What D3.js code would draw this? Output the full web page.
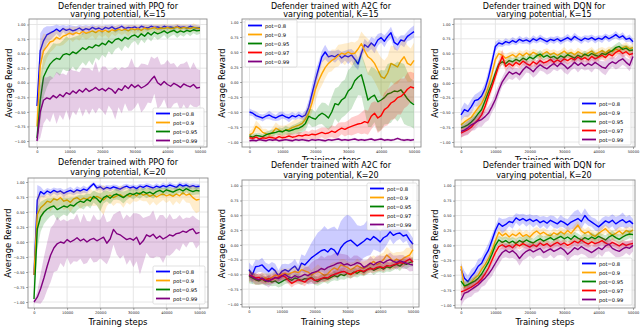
<!DOCTYPE html>
<html><head><meta charset="utf-8">
<script src="https://cdn.jsdelivr.net/npm/d3@7"></script>
<style>body{margin:0;background:#fff}svg{display:block}</style>
</head><body><svg id="c" width="640" height="327"></svg>
<script>
// ---------- shared data ----------
const STEPS = [0,1000,2000,3000,4000,5000,6000,7000,8000,9000,10000,11000,12000,13000,14000,15000,16000,17000,18000,19000,20000,21000,22000,23000,24000,25000,26000,27000,28000,29000,30000,31000,32000,33000,34000,35000,36000,37000,38000,39000,40000,41000,42000,43000,44000,45000,46000,47000,48000,49000,50000];
const X_TICKS = [0,10000,20000,30000,40000,50000];
const Y_TICKS = [-1,-0.75,-0.5,-0.25,0,0.25,0.5,0.75,1];
const SERIES_LABELS = ["pot=0.8","pot=0.9","pot=0.95","pot=0.97","pot=0.99"];
const SERIES_COLORS = ["blue","orange","green","red","purple"];
const ALGOS = ["PPO","A2C","DQN"];
const KS = [15,20];

// ---------- PPO, K=15 ----------
const ppo15_08 = [-0.40,0.55,0.72,0.82,0.85,0.88,0.92,0.88,0.93,0.90,0.92,0.89,0.91,0.94,0.90,0.93,0.91,0.95,0.92,0.94,0.91,0.95,0.93,0.96,0.92,0.94,0.97,0.93,0.95,0.94,0.96,0.93,0.97,0.95,0.94,0.97,0.95,0.96,0.94,0.97,0.95,0.96,0.94,0.97,0.95,0.96,0.94,0.97,0.95,0.94,0.94];
const ppo15_09 = [-0.75,0.30,0.55,0.62,0.70,0.72,0.78,0.75,0.80,0.82,0.85,0.83,0.86,0.84,0.88,0.85,0.87,0.89,0.86,0.90,0.88,0.90,0.87,0.91,0.89,0.92,0.90,0.92,0.89,0.93,0.91,0.93,0.90,0.94,0.92,0.93,0.95,0.92,0.94,0.93,0.95,0.93,0.94,0.96,0.93,0.95,0.94,0.93,0.95,0.94,0.93];
const ppo15_095 = [-0.95,-0.30,0.10,0.22,0.32,0.38,0.42,0.40,0.48,0.50,0.48,0.53,0.50,0.55,0.60,0.57,0.62,0.60,0.65,0.63,0.68,0.65,0.72,0.68,0.74,0.76,0.72,0.78,0.75,0.80,0.82,0.78,0.84,0.80,0.86,0.82,0.87,0.84,0.86,0.89,0.85,0.88,0.90,0.86,0.89,0.87,0.90,0.88,0.91,0.89,0.90];
const ppo15_099 = [-1.00,-0.50,-0.30,-0.26,-0.28,-0.22,-0.26,-0.20,-0.24,-0.17,-0.20,-0.14,-0.18,-0.12,-0.16,-0.10,-0.15,-0.12,-0.08,-0.13,-0.10,-0.14,-0.09,-0.12,-0.18,-0.10,-0.13,-0.05,-0.10,-0.03,-0.08,-0.04,-0.09,-0.06,-0.02,0.05,0.11,0.00,-0.04,0.02,-0.03,-0.06,-0.01,-0.04,-0.08,-0.02,-0.05,-0.07,-0.03,-0.09,-0.08];
const ppo15_08_sd = [.05,.3,.22,.15,.12,.1,.08,.1,.06,.08,.07,.09,.06,.05,.08,.06,.07,.05,.06,.05,.07,.04,.06,.04,.06,.05,.03,.05,.04,.05,.03,.05,.03,.04,.05,.03,.04,.03,.05,.03,.04,.03,.05,.03,.04,.03,.05,.03,.04,.05,.04];
const ppo15_09_sd = [.05,.4,.3,.2,.18,.15,.14,.12,.15,.12,.1,.13,.1,.12,.09,.11,.1,.08,.12,.08,.1,.08,.11,.07,.09,.07,.08,.07,.1,.06,.08,.06,.09,.06,.07,.06,.05,.08,.06,.07,.05,.07,.06,.05,.07,.05,.06,.05,.07,.05,.06];
const ppo15_095_sd = [.03,.4,.35,.3,.28,.3,.25,.28,.25,.3,.28,.25,.3,.27,.25,.28,.24,.3,.22,.25,.2,.22,.18,.2,.17,.15,.18,.14,.16,.12,.1,.14,.1,.12,.09,.11,.08,.1,.09,.07,.1,.08,.07,.09,.07,.08,.06,.08,.06,.07,.06];
const ppo15_099_sd = [.02,.45,.4,.35,.4,.3,.45,.35,.4,.3,.45,.35,.38,.3,.42,.35,.4,.32,.45,.3,.38,.42,.3,.35,.45,.32,.4,.3,.38,.45,.35,.3,.42,.38,.32,.4,.3,.45,.35,.3,.42,.38,.35,.3,.4,.35,.42,.3,.38,.33,.3];

// ---------- A2C, K=15 ----------
const a2c15_08 = [-0.50,-0.52,-0.56,-0.58,-0.60,-0.57,-0.55,-0.58,-0.60,-0.57,-0.55,-0.58,-0.60,-0.56,-0.58,-0.55,-0.58,-0.55,-0.42,-0.20,0.02,0.22,0.42,0.50,0.42,0.44,0.42,0.46,0.40,0.44,0.42,0.45,0.38,0.30,0.48,0.62,0.58,0.65,0.60,0.70,0.74,0.68,0.76,0.82,0.66,0.62,0.70,0.68,0.76,0.80,0.84];
const a2c15_09 = [-0.88,-0.85,-0.74,-0.78,-0.84,-0.86,-0.88,-0.84,-0.77,-0.80,-0.83,-0.80,-0.79,-0.76,-0.74,-0.72,-0.69,-0.62,-0.52,-0.35,-0.13,0.02,0.14,0.24,0.31,0.36,0.39,0.44,0.48,0.46,0.50,0.47,0.48,0.55,0.64,0.52,0.42,0.38,0.31,0.20,0.09,0.06,0.15,0.31,0.28,0.25,0.35,0.42,0.31,0.28,0.36];
const a2c15_095 = [-0.90,-0.92,-0.89,-0.90,-0.91,-0.88,-0.86,-0.85,-0.84,-0.82,-0.83,-0.80,-0.82,-0.80,-0.78,-0.77,-0.74,-0.69,-0.57,-0.60,-0.62,-0.56,-0.52,-0.55,-0.60,-0.50,-0.36,-0.38,-0.30,-0.26,-0.15,-0.10,0.02,0.08,0.12,-0.08,-0.30,-0.25,-0.22,-0.33,-0.30,-0.26,-0.20,-0.18,-0.15,-0.16,-0.13,-0.20,-0.28,-0.34,-0.38];
const a2c15_097 = [-0.93,-0.94,-0.92,-0.95,-0.93,-0.94,-0.92,-0.93,-0.94,-0.91,-0.93,-0.92,-0.90,-0.92,-0.91,-0.89,-0.90,-0.88,-0.89,-0.87,-0.88,-0.86,-0.84,-0.86,-0.85,-0.82,-0.84,-0.80,-0.77,-0.79,-0.76,-0.74,-0.72,-0.70,-0.69,-0.66,-0.68,-0.57,-0.52,-0.60,-0.56,-0.46,-0.42,-0.35,-0.32,-0.26,-0.24,-0.19,-0.12,-0.08,-0.10];
const a2c15_099 = [-0.98,-0.97,-0.98,-0.96,-0.97,-0.98,-0.96,-0.97,-0.96,-0.98,-0.97,-0.96,-0.97,-0.98,-0.96,-0.97,-0.96,-0.97,-0.98,-0.96,-0.97,-0.96,-0.97,-0.98,-0.96,-0.97,-0.96,-0.95,-0.97,-0.96,-0.97,-0.96,-0.95,-0.97,-0.96,-0.97,-0.96,-0.95,-0.97,-0.96,-0.95,-0.97,-0.96,-0.97,-0.96,-0.94,-0.96,-0.97,-0.96,-0.97,-0.96];
const a2c15_08_sd = [.06,.05,.07,.05,.06,.05,.07,.06,.05,.07,.06,.05,.07,.06,.05,.06,.05,.08,.12,.15,.15,.12,.1,.12,.1,.08,.1,.08,.1,.08,.12,.1,.12,.1,.08,.1,.08,.1,.12,.1,.08,.1,.08,.1,.12,.1,.08,.1,.08,.1,.1];
const a2c15_09_sd = [.06,.08,.1,.08,.06,.08,.06,.08,.1,.08,.1,.08,.1,.1,.12,.1,.12,.12,.15,.15,.2,.18,.2,.18,.15,.18,.15,.18,.15,.18,.15,.2,.18,.15,.2,.25,.3,.28,.3,.3,.32,.3,.28,.3,.32,.28,.3,.32,.3,.28,.3];
const a2c15_095_sd = [.04,.05,.04,.05,.04,.05,.05,.06,.05,.06,.06,.07,.06,.08,.08,.1,.1,.12,.12,.15,.12,.15,.18,.2,.2,.25,.25,.3,.3,.3,.35,.35,.35,.3,.35,.4,.45,.5,.45,.5,.5,.45,.5,.5,.45,.5,.45,.5,.45,.4,.4];
const a2c15_097_sd = [.03,.03,.04,.03,.03,.04,.03,.04,.04,.05,.04,.05,.05,.06,.05,.06,.06,.07,.06,.08,.07,.08,.08,.1,.08,.1,.1,.12,.1,.12,.12,.15,.15,.15,.18,.2,.2,.22,.2,.25,.25,.28,.3,.28,.3,.28,.3,.25,.28,.25,.25];
const a2c15_099_sd = [.02,.02,.02,.02,.02,.02,.02,.02,.02,.02,.02,.02,.02,.02,.02,.02,.02,.02,.02,.02,.02,.02,.02,.02,.02,.02,.02,.02,.02,.02,.02,.02,.02,.02,.02,.02,.02,.02,.02,.02,.02,.02,.02,.02,.02,.02,.02,.02,.02,.02,.02];

// ---------- DQN, K=15 ----------
const dqn15_08 = [-0.54,-0.45,-0.48,-0.40,-0.30,-0.28,-0.22,-0.10,0.10,0.35,0.62,0.68,0.66,0.70,0.68,0.72,0.69,0.74,0.71,0.73,0.70,0.75,0.72,0.76,0.73,0.70,0.74,0.72,0.75,0.71,0.74,0.77,0.73,0.79,0.75,0.72,0.76,0.74,0.77,0.73,0.76,0.74,0.79,0.75,0.78,0.82,0.77,0.80,0.74,0.76,0.70];
const dqn15_09 = [-0.71,-0.66,-0.62,-0.58,-0.50,-0.42,-0.34,-0.22,-0.05,0.15,0.40,0.50,0.47,0.42,0.45,0.48,0.44,0.50,0.46,0.51,0.47,0.52,0.49,0.45,0.50,0.53,0.48,0.51,0.47,0.50,0.54,0.49,0.52,0.48,0.53,0.50,0.47,0.51,0.54,0.49,0.52,0.55,0.51,0.56,0.53,0.58,0.55,0.60,0.62,0.58,0.60];
const dqn15_095 = [-0.76,-0.74,-0.71,-0.66,-0.60,-0.52,-0.45,-0.30,-0.15,0.00,0.17,0.32,0.36,0.33,0.38,0.36,0.40,0.37,0.42,0.39,0.44,0.41,0.46,0.49,0.44,0.47,0.43,0.45,0.41,0.46,0.43,0.48,0.45,0.42,0.47,0.44,0.49,0.46,0.50,0.47,0.45,0.50,0.48,0.52,0.55,0.60,0.62,0.57,0.59,0.55,0.56];
const dqn15_097 = [-0.85,-0.82,-0.79,-0.75,-0.68,-0.62,-0.54,-0.40,-0.22,-0.06,0.12,0.30,0.45,0.28,0.33,0.29,0.35,0.31,0.37,0.33,0.30,0.36,0.32,0.38,0.34,0.36,0.40,0.35,0.39,0.36,0.41,0.38,0.42,0.39,0.44,0.40,0.43,0.39,0.45,0.41,0.44,0.47,0.43,0.49,0.46,0.52,0.55,0.50,0.53,0.48,0.50];
const dqn15_099 = [-0.82,-0.80,-0.76,-0.71,-0.68,-0.64,-0.62,-0.57,-0.51,-0.40,-0.28,-0.12,0.02,0.11,0.19,0.15,0.18,0.14,0.22,0.28,0.24,0.19,0.26,0.31,0.27,0.24,0.29,0.33,0.28,0.34,0.30,0.24,0.29,0.35,0.30,0.34,0.29,0.33,0.30,0.35,0.31,0.27,0.25,0.32,0.36,0.33,0.38,0.41,0.35,0.30,0.45];
const dqn15_08_sd = [.1,.12,.1,.12,.1,.12,.1,.1,.12,.1,.08,.06,.05,.06,.05,.06,.05,.06,.05,.06,.05,.06,.05,.06,.05,.06,.05,.06,.05,.06,.05,.06,.05,.06,.05,.06,.05,.06,.05,.06,.05,.06,.05,.06,.05,.06,.05,.06,.05,.06,.05];
const dqn15_09_sd = [.08,.1,.08,.1,.08,.1,.1,.12,.1,.1,.08,.06,.07,.06,.07,.06,.07,.06,.07,.06,.07,.06,.07,.06,.07,.06,.07,.06,.07,.06,.07,.06,.07,.06,.07,.06,.07,.06,.07,.06,.07,.06,.07,.06,.07,.06,.07,.06,.07,.06,.07];
const dqn15_095_sd = [.07,.08,.07,.08,.07,.08,.1,.1,.1,.08,.07,.06,.05,.06,.07,.06,.05,.07,.06,.05,.07,.06,.05,.07,.06,.05,.07,.06,.05,.07,.06,.05,.07,.06,.05,.07,.06,.05,.07,.06,.05,.07,.06,.05,.07,.06,.08,.07,.06,.07,.06];
const dqn15_097_sd = [.08,.07,.08,.07,.08,.07,.08,.1,.1,.08,.08,.1,.12,.08,.06,.07,.06,.07,.06,.07,.06,.07,.06,.07,.06,.07,.06,.07,.06,.07,.06,.07,.06,.07,.06,.07,.06,.07,.06,.07,.06,.07,.06,.07,.06,.07,.06,.07,.06,.07,.06];
const dqn15_099_sd = [.1,.1,.12,.1,.12,.1,.12,.1,.12,.1,.12,.1,.08,.1,.12,.1,.08,.1,.12,.1,.08,.1,.12,.1,.08,.1,.12,.1,.08,.1,.12,.1,.08,.1,.12,.1,.08,.1,.12,.1,.08,.1,.12,.1,.08,.1,.12,.1,.08,.1,.12];

// ---------- PPO, K=20 ----------
const ppo20_08 = [-0.55,0.70,0.84,0.80,0.85,0.82,0.86,0.83,0.85,0.81,0.84,0.86,0.83,0.87,0.85,0.88,0.86,0.92,0.97,0.90,0.92,0.88,0.91,0.89,0.92,0.90,0.88,0.91,0.93,0.90,0.92,0.89,0.93,0.91,0.94,0.92,0.90,0.93,0.91,0.94,0.92,0.95,0.93,0.91,0.96,0.93,0.95,0.92,0.94,0.92,0.93];
const ppo20_09 = [-0.55,0.46,0.57,0.62,0.68,0.66,0.72,0.70,0.74,0.68,0.70,0.66,0.72,0.74,0.70,0.73,0.71,0.75,0.72,0.76,0.73,0.70,0.75,0.78,0.74,0.77,0.79,0.75,0.78,0.76,0.80,0.77,0.82,0.78,0.80,0.76,0.79,0.75,0.78,0.80,0.77,0.79,0.76,0.80,0.77,0.82,0.78,0.80,0.74,0.70,0.71];
const ppo20_095 = [-0.95,0.22,0.42,0.50,0.55,0.58,0.60,0.54,0.57,0.60,0.58,0.62,0.60,0.65,0.68,0.66,0.71,0.68,0.76,0.72,0.66,0.74,0.77,0.73,0.78,0.80,0.77,0.74,0.78,0.81,0.79,0.82,0.80,0.84,0.81,0.83,0.80,0.84,0.86,0.83,0.87,0.85,0.83,0.86,0.88,0.85,0.89,0.86,0.84,0.86,0.85];
const ppo20_099 = [-1.00,-0.92,-0.78,-0.60,-0.40,-0.22,-0.10,-0.03,0.00,-0.02,0.04,0.00,0.03,0.07,0.02,0.05,0.00,0.04,0.06,0.02,0.05,0.08,-0.02,0.05,0.21,0.14,0.12,0.08,0.04,0.06,0.03,0.08,-0.04,0.02,0.12,0.09,0.13,0.06,0.10,0.05,0.08,0.12,0.10,0.14,0.15,0.18,0.16,0.20,0.22,0.14,0.16];
const ppo20_08_sd = [.05,.25,.08,.06,.05,.06,.05,.06,.05,.06,.05,.06,.05,.06,.05,.06,.05,.04,.03,.05,.04,.05,.04,.05,.04,.05,.04,.05,.04,.05,.04,.05,.04,.05,.04,.05,.04,.05,.04,.05,.04,.05,.04,.05,.04,.05,.04,.05,.04,.05,.04];
const ppo20_09_sd = [.05,.35,.2,.15,.12,.15,.12,.14,.12,.15,.13,.16,.14,.12,.15,.13,.12,.14,.12,.15,.2,.25,.15,.12,.14,.12,.15,.18,.12,.14,.12,.1,.12,.1,.12,.15,.12,.14,.12,.1,.12,.1,.15,.12,.14,.1,.12,.15,.2,.22,.2];
const ppo20_095_sd = [.03,.35,.25,.2,.18,.15,.14,.18,.15,.14,.15,.12,.14,.12,.11,.12,.1,.12,.1,.11,.15,.1,.09,.1,.08,.09,.08,.1,.08,.07,.08,.07,.08,.07,.08,.07,.08,.07,.06,.07,.06,.07,.06,.07,.06,.07,.06,.07,.06,.07,.06];
const ppo20_099_sd = [.02,.1,.25,.35,.4,.45,.4,.45,.35,.4,.3,.38,.35,.4,.3,.42,.35,.3,.4,.35,.32,.4,.35,.3,.25,.35,.4,.3,.42,.35,.45,.4,.5,.38,.3,.35,.4,.3,.35,.4,.3,.35,.28,.25,.3,.2,.25,.2,.22,.25,.2];

// ---------- A2C, K=20 ----------
const a2c20_08 = [-0.42,-0.51,-0.37,-0.36,-0.34,-0.40,-0.45,-0.39,-0.44,-0.53,-0.45,-0.42,-0.45,-0.40,-0.36,-0.44,-0.31,-0.34,-0.28,-0.22,-0.18,-0.14,-0.10,-0.08,-0.12,-0.06,-0.09,-0.17,-0.05,0.02,0.06,0.08,0.03,-0.02,0.02,0.06,0.11,0.08,0.14,0.10,0.05,0.12,0.15,0.22,0.16,0.19,0.20,0.15,0.17,0.08,0.01];
const a2c20_09 = [-0.53,-0.55,-0.58,-0.59,-0.57,-0.56,-0.58,-0.55,-0.51,-0.53,-0.50,-0.48,-0.50,-0.47,-0.45,-0.47,-0.42,-0.44,-0.46,-0.51,-0.48,-0.45,-0.48,-0.52,-0.49,-0.43,-0.39,-0.42,-0.34,-0.36,-0.38,-0.42,-0.39,-0.35,-0.38,-0.40,-0.36,-0.32,-0.28,-0.33,-0.30,-0.25,-0.17,-0.22,-0.28,-0.24,-0.27,-0.23,-0.20,-0.17,-0.08];
const a2c20_095 = [-0.53,-0.56,-0.59,-0.61,-0.58,-0.62,-0.60,-0.63,-0.61,-0.65,-0.62,-0.59,-0.57,-0.60,-0.56,-0.58,-0.60,-0.57,-0.58,-0.55,-0.60,-0.62,-0.58,-0.56,-0.58,-0.55,-0.52,-0.54,-0.50,-0.52,-0.48,-0.50,-0.46,-0.48,-0.44,-0.46,-0.42,-0.39,-0.43,-0.40,-0.38,-0.41,-0.37,-0.39,-0.35,-0.33,-0.36,-0.31,-0.33,-0.30,-0.28];
const a2c20_097 = [-0.51,-0.53,-0.56,-0.55,-0.58,-0.60,-0.57,-0.59,-0.56,-0.55,-0.52,-0.54,-0.60,-0.65,-0.62,-0.59,-0.61,-0.63,-0.58,-0.56,-0.60,-0.59,-0.57,-0.55,-0.56,-0.52,-0.50,-0.48,-0.46,-0.45,-0.48,-0.50,-0.47,-0.44,-0.43,-0.45,-0.42,-0.40,-0.41,-0.38,-0.37,-0.39,-0.35,-0.36,-0.34,-0.32,-0.30,-0.31,-0.27,-0.24,-0.29];
const a2c20_099 = [-0.51,-0.54,-0.57,-0.59,-0.56,-0.60,-0.62,-0.58,-0.55,-0.57,-0.53,-0.50,-0.54,-0.56,-0.52,-0.55,-0.53,-0.50,-0.52,-0.48,-0.46,-0.44,-0.40,-0.42,-0.38,-0.36,-0.34,-0.31,-0.30,-0.34,-0.32,-0.35,-0.33,-0.30,-0.32,-0.38,-0.35,-0.31,-0.34,-0.30,-0.28,-0.31,-0.27,-0.25,-0.28,-0.30,-0.27,-0.29,-0.31,-0.33,-0.34];
const a2c20_08_sd = [.12,.15,.12,.1,.12,.1,.12,.1,.12,.1,.12,.1,.12,.1,.12,.1,.15,.15,.2,.25,.3,.35,.35,.4,.38,.35,.4,.42,.45,.45,.45,.4,.38,.35,.3,.28,.3,.25,.22,.2,.18,.2,.15,.12,.15,.12,.1,.12,.1,.12,.1];
const a2c20_09_sd = [.1,.08,.1,.08,.1,.08,.1,.08,.1,.08,.1,.08,.1,.08,.1,.08,.1,.08,.1,.08,.1,.12,.1,.12,.1,.12,.1,.12,.1,.12,.1,.12,.1,.12,.1,.12,.1,.12,.1,.12,.14,.12,.14,.12,.14,.12,.15,.12,.15,.12,.15];
const a2c20_095_sd = [.12,.1,.08,.07,.08,.07,.08,.07,.08,.07,.08,.07,.08,.07,.08,.07,.08,.07,.08,.07,.08,.07,.08,.07,.08,.07,.08,.07,.08,.07,.08,.07,.08,.07,.08,.07,.08,.07,.08,.07,.08,.07,.08,.07,.08,.07,.08,.07,.08,.07,.08];
const a2c20_097_sd = [.06,.07,.06,.07,.06,.07,.06,.07,.06,.07,.06,.07,.06,.07,.06,.07,.06,.07,.06,.07,.06,.07,.06,.07,.06,.07,.06,.07,.06,.07,.06,.07,.06,.07,.06,.07,.06,.07,.06,.07,.06,.07,.06,.07,.06,.07,.06,.07,.06,.07,.06];
const a2c20_099_sd = [.1,.08,.1,.08,.1,.08,.1,.08,.1,.08,.1,.08,.1,.08,.1,.08,.1,.12,.15,.18,.2,.2,.22,.2,.2,.18,.2,.18,.15,.18,.15,.12,.15,.12,.1,.12,.1,.12,.1,.12,.1,.12,.1,.12,.1,.12,.1,.12,.1,.12,.1];

// ---------- DQN, K=20 ----------
const dqn20_08 = [-0.40,-0.55,-0.61,-0.52,-0.45,-0.35,-0.30,-0.18,-0.08,0.08,0.25,0.37,0.32,0.35,0.40,0.38,0.46,0.42,0.45,0.41,0.44,0.40,0.43,0.38,0.41,0.37,0.42,0.39,0.36,0.41,0.38,0.34,0.39,0.42,0.45,0.40,0.50,0.43,0.39,0.35,0.31,0.36,0.41,0.38,0.42,0.36,0.40,0.43,0.38,0.41,0.36];
const dqn20_09 = [-0.35,-0.70,-0.66,-0.62,-0.55,-0.50,-0.40,-0.32,-0.22,-0.08,0.08,0.22,0.16,0.20,0.14,0.19,0.16,0.21,0.15,0.18,0.14,0.20,0.24,0.19,0.22,0.18,0.16,0.21,0.18,0.23,0.19,0.25,0.20,0.27,0.34,0.24,0.20,0.23,0.18,0.15,0.20,0.24,0.28,0.22,0.17,0.20,0.24,0.19,0.25,0.22,0.26];
const dqn20_095 = [-0.60,-0.68,-0.66,-0.63,-0.60,-0.55,-0.48,-0.38,-0.28,-0.15,0.00,0.09,0.05,0.08,0.04,0.07,0.03,0.08,0.05,0.09,0.06,0.04,0.08,0.11,0.07,0.10,0.13,0.09,0.12,0.15,0.11,0.14,0.10,0.16,0.12,0.09,0.13,0.10,0.14,0.11,0.15,0.12,0.09,0.14,0.17,0.13,0.10,0.14,0.17,0.19,0.18];
const dqn20_097 = [-0.78,-0.76,-0.73,-0.70,-0.66,-0.62,-0.56,-0.48,-0.38,-0.25,-0.12,-0.02,0.01,-0.03,0.00,-0.04,0.02,-0.01,0.03,0.00,-0.03,0.01,-0.02,0.04,0.00,0.03,-0.02,0.02,0.05,0.01,0.04,0.00,0.03,0.07,0.04,0.09,0.05,0.02,0.06,0.03,0.05,0.08,0.04,0.01,0.05,0.02,-0.01,0.03,0.00,0.02,0.03];
const dqn20_099 = [-0.92,-0.80,-0.78,-0.74,-0.70,-0.66,-0.60,-0.55,-0.48,-0.40,-0.30,-0.20,-0.12,-0.08,-0.12,-0.09,-0.14,-0.22,-0.15,-0.10,-0.07,-0.11,-0.08,-0.05,-0.12,-0.09,-0.06,-0.10,-0.07,-0.04,-0.08,-0.15,-0.10,-0.04,-0.07,-0.02,-0.06,-0.09,-0.12,-0.08,-0.04,-0.07,-0.01,0.02,-0.05,-0.08,-0.10,-0.06,-0.03,-0.05,0.00];
const dqn20_08_sd = [.1,.12,.1,.12,.1,.12,.1,.1,.12,.1,.08,.1,.12,.1,.08,.1,.08,.1,.08,.1,.08,.1,.08,.1,.08,.1,.08,.1,.08,.1,.08,.1,.12,.15,.15,.12,.12,.1,.08,.1,.08,.1,.08,.1,.1,.12,.1,.12,.1,.1,.08];
const dqn20_09_sd = [.1,.08,.07,.08,.07,.08,.07,.08,.07,.08,.07,.08,.07,.08,.07,.08,.07,.08,.07,.08,.07,.08,.07,.08,.07,.08,.07,.08,.07,.08,.07,.08,.07,.08,.07,.08,.07,.08,.07,.08,.07,.08,.07,.08,.07,.08,.07,.08,.07,.08,.07];
const dqn20_095_sd = [.08,.07,.08,.07,.08,.07,.08,.07,.08,.07,.08,.07,.08,.07,.08,.07,.08,.07,.08,.07,.08,.07,.08,.07,.08,.07,.08,.07,.08,.07,.08,.07,.08,.07,.08,.07,.08,.07,.08,.07,.08,.07,.08,.07,.08,.07,.08,.07,.08,.07,.08];
const dqn20_097_sd = [.07,.06,.07,.06,.07,.06,.07,.06,.07,.06,.07,.06,.07,.06,.07,.06,.07,.06,.07,.06,.07,.06,.07,.06,.07,.06,.07,.06,.07,.06,.07,.06,.07,.06,.07,.06,.07,.06,.07,.06,.07,.06,.07,.06,.07,.06,.07,.06,.07,.06,.07];
const dqn20_099_sd = [.1,.12,.1,.12,.1,.12,.1,.12,.1,.12,.1,.12,.1,.12,.1,.12,.1,.12,.1,.12,.1,.12,.1,.12,.1,.12,.1,.12,.1,.12,.1,.12,.1,.12,.1,.12,.1,.12,.1,.12,.1,.12,.1,.12,.1,.12,.1,.12,.1,.12,.1];

// ---------- panel assembly ----------
// xlY: baseline of "Training steps" (null where the reference shows none: hidden by the panel below)
const panels = [
  {algo:0,k:0, series:[[0,ppo15_08,ppo15_08_sd],[1,ppo15_09,ppo15_09_sd],[2,ppo15_095,ppo15_095_sd],[4,ppo15_099,ppo15_099_sd]],
   L:{bx0:29,by0:19,bx1:207,by1:147,x0:37,x1:200,yT:24.5,yB:141,tcx:118,t1:8.5,t2:17,ylx:9,xlY:null,cover:null,leg:[153,108,51]}},
  {algo:1,k:0, series:[[0,a2c15_08,a2c15_08_sd],[1,a2c15_09,a2c15_09_sd],[2,a2c15_095,a2c15_095_sd],[3,a2c15_097,a2c15_097_sd],[4,a2c15_099,a2c15_099_sd]],
   L:{bx0:242,by0:19,bx1:421,by1:147,x0:249.5,x1:414,yT:22,yB:142,tcx:331,t1:8.5,t2:17,ylx:222,xlY:163,cover:null,leg:[245,20,52]}},
  {algo:2,k:0, series:[[0,dqn15_08,dqn15_08_sd],[1,dqn15_09,dqn15_09_sd],[2,dqn15_095,dqn15_095_sd],[3,dqn15_097,dqn15_097_sd],[4,dqn15_099,dqn15_099_sd]],
   L:{bx0:454,by0:19,bx1:635,by1:147,x0:461,x1:633,yT:24,yB:142,tcx:544,t1:8.5,t2:17,ylx:435,xlY:163,cover:null,leg:[579,98,52]}},
  {algo:0,k:1, series:[[0,ppo20_08,ppo20_08_sd],[1,ppo20_09,ppo20_09_sd],[2,ppo20_095,ppo20_095_sd],[4,ppo20_099,ppo20_099_sd]],
   L:{bx0:28,by0:178,bx1:208,by1:308,x0:34,x1:199.5,yT:182,yB:302,tcx:118,t1:165,t2:175,ylx:8,xlY:325,cover:[0,156,213],leg:[153,266,52]}},
  {algo:1,k:1, series:[[0,a2c20_08,a2c20_08_sd],[1,a2c20_09,a2c20_09_sd],[2,a2c20_095,a2c20_095_sd],[3,a2c20_097,a2c20_097_sd],[4,a2c20_099,a2c20_099_sd]],
   L:{bx0:242,by0:180,bx1:419,by1:307,x0:249,x1:413,yT:185.7,yB:304,tcx:331,t1:168,t2:178,ylx:222,xlY:325,cover:[213,160,214],leg:[367,183,50]}},
  {algo:2,k:1, series:[[0,dqn20_08,dqn20_08_sd],[1,dqn20_09,dqn20_09_sd],[2,dqn20_095,dqn20_095_sd],[3,dqn20_097,dqn20_097_sd],[4,dqn20_099,dqn20_099_sd]],
   L:{bx0:455,by0:180,bx1:635,by1:308,x0:461,x1:633,yT:185.7,yB:305,tcx:544,t1:168,t2:178,ylx:435,xlY:325,cover:[427,160,213],leg:[579,258,53]}}
];

const FONT = "DejaVu Sans, Liberation Sans, sans-serif";
const svg = d3.select("#c");
svg.append("rect").attr("width",640).attr("height",327).attr("fill","#fff");
const fmtY = d => d3.format(".2f")(d).replace("-", "\u2212");

panels.forEach((p, pi) => {
  const L = p.L;
  const g = svg.append("g");
  if (L.cover) g.append("rect").attr("x",L.cover[0]).attr("y",L.cover[1]).attr("width",L.cover[2]).attr("height",327-L.cover[1]).attr("fill","#fff");
  const x = d3.scaleLinear().domain([0,50000]).range([L.x0,L.x1]);
  const y = d3.scaleLinear().domain([-1,1]).range([L.yB,L.yT]);
  const cid = "clip"+pi;
  g.append("clipPath").attr("id",cid).append("rect")
    .attr("x",L.bx0).attr("y",L.by0).attr("width",L.bx1-L.bx0).attr("height",L.by1-L.by0);
  // grid
  const grid = g.append("g").attr("stroke","#e3e3e3").attr("stroke-width",0.9);
  X_TICKS.forEach(t => grid.append("line").attr("x1",x(t)).attr("x2",x(t)).attr("y1",L.by0).attr("y2",L.by1));
  Y_TICKS.forEach(t => grid.append("line").attr("y1",y(t)).attr("y2",y(t)).attr("x1",L.bx0).attr("x2",L.bx1));
  // series
  const plot = g.append("g").attr("clip-path","url(#"+cid+")");
  p.series.forEach(([ci, vals, sd]) => {
    const data = STEPS.map((s,i) => ({s, v:vals[i], d:sd[i]}));
    plot.append("path").datum(data)
      .attr("d", d3.area().x(d=>x(d.s)).y0(d=>y(d.v-d.d)).y1(d=>y(d.v+d.d)))
      .attr("fill", SERIES_COLORS[ci]).attr("fill-opacity", 0.2).attr("stroke","none");
    plot.append("path").datum(data)
      .attr("d", d3.line().x(d=>x(d.s)).y(d=>y(d.v)))
      .attr("fill","none").attr("stroke",SERIES_COLORS[ci]).attr("stroke-width",1.4).attr("stroke-linejoin","round");
  });
  // frame
  g.append("rect").attr("x",L.bx0).attr("y",L.by0).attr("width",L.bx1-L.bx0).attr("height",L.by1-L.by0)
    .attr("fill","none").attr("stroke","#8c8c8c").attr("stroke-width",0.9);
  // axes
  const ax = g.append("g").attr("transform",`translate(0,${L.by1})`)
    .call(d3.axisBottom(x).tickValues(X_TICKS).tickSize(2).tickPadding(1).tickFormat(d3.format("d")));
  const ay = g.append("g").attr("transform",`translate(${L.bx0},0)`)
    .call(d3.axisLeft(y).tickValues(Y_TICKS).tickSize(2).tickPadding(1.5).tickFormat(fmtY));
  [ax, ay].forEach(a => {
    a.select(".domain").remove();
    a.selectAll("line").attr("stroke","#555").attr("stroke-width",0.5);
    a.selectAll("text").attr("font-family",FONT).attr("font-size","3.6px").attr("fill","#222");
  });
  // title
  const tt = g.append("text").attr("font-family",FONT).attr("font-size","8px").attr("fill","#000").attr("text-anchor","middle");
  tt.append("tspan").attr("x",L.tcx).attr("y",L.t1).text(`Defender trained with ${ALGOS[p.algo]} for`);
  tt.append("tspan").attr("x",L.tcx).attr("y",L.t2).text(`varying potential, K=${KS[p.k]}`);
  // axis labels
  const cy = (L.by0+L.by1)/2;
  g.append("text").attr("transform",`translate(${L.ylx},${cy}) rotate(-90)`)
    .attr("text-anchor","middle").attr("dominant-baseline","central")
    .attr("font-family",FONT).attr("font-size","8.5px").attr("fill","#000").text("Average Reward");
  if (L.xlY !== null) {
    g.append("text").attr("x",(L.bx0+L.bx1)/2).attr("y",L.xlY).attr("text-anchor","middle")
      .attr("font-family",FONT).attr("font-size","8.5px").attr("fill","#000").text("Training steps");
  }
  // legend
  const [lx, ly, lw] = L.leg;
  const n = p.series.length;
  const lg = g.append("g");
  lg.append("rect").attr("x",lx).attr("y",ly).attr("width",lw).attr("height",n*9+2).attr("rx",1.5)
    .attr("fill","#fff").attr("fill-opacity",0.8).attr("stroke","#cccccc").attr("stroke-width",0.6);
  p.series.forEach(([ci], i) => {
    const ey = ly + 5.5 + i*9;
    lg.append("line").attr("x1",lx+3).attr("x2",lx+17).attr("y1",ey).attr("y2",ey)
      .attr("stroke",SERIES_COLORS[ci]).attr("stroke-width",1.8);
    lg.append("text").attr("x",lx+20).attr("y",ey).attr("dominant-baseline","central")
      .attr("font-family",FONT).attr("font-size","5.2px").attr("fill","#000").text(SERIES_LABELS[ci]);
  });
});
</script></body></html>
